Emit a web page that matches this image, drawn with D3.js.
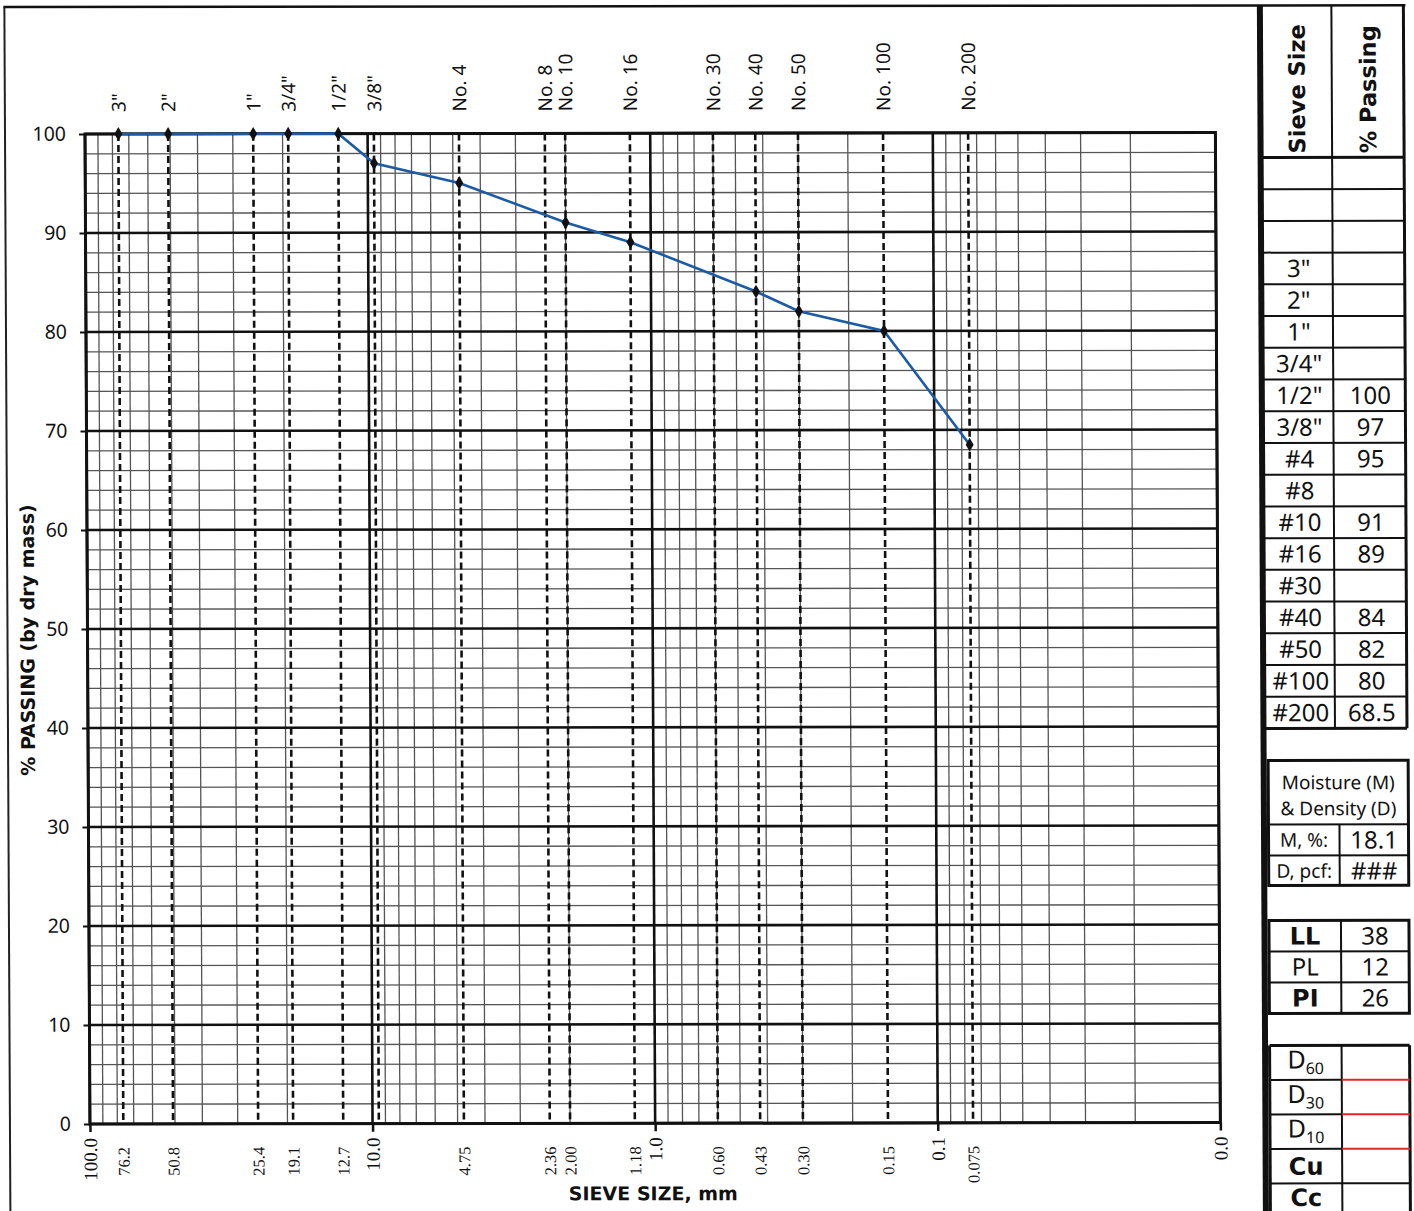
<!DOCTYPE html>
<html>
<head>
<meta charset="utf-8">
<script src="https://cdn.jsdelivr.net/npm/d3@7/dist/d3.min.js"></script>
<style>
  html, body { margin: 0; padding: 0; background: #fff; }
  svg { display: block; }
</style>
</head>
<body>
<svg id="chart" width="1414" height="1211"></svg>
<script>
// ---- Sieve analysis data ----
const sieveLabels = ['3"', '2"', '1"', '3/4"', '1/2"', '3/8"', 'No. 4', 'No. 8', 'No. 10', 'No. 16', 'No. 30', 'No. 40', 'No. 50', 'No. 100', 'No. 200'];
const sieveSizesMm = [76.2, 50.8, 25.4, 19.1, 12.7, 9.5, 4.75, 2.36, 2.00, 1.18, 0.60, 0.425, 0.30, 0.15, 0.075];
const percentPassing = [100, 100, 100, 100, 100, 97, 95, null, 91, 89, null, 84, 82, 80, 68.5];

// bottom axis (sieve opening, mm)
const mmTickValues = [100, 76.2, 50.8, 25.4, 19.1, 12.7, 10, 4.75, 2.36, 2.00, 1.18, 1, 0.60, 0.425, 0.30, 0.15, 0.1, 0.075, 0.01];
const mmTickLabels = ['100.0', '76.2', '50.8', '25.4', '19.1', '12.7', '10.0', '4.75', '2.36', '2.00', '1.18', '1.0', '0.60', '0.43', '0.30', '0.15', '0.1', '0.075', '0.0'];
const decadeValues = [100, 10, 1, 0.1, 0.01];
const passingTicks = [0, 10, 20, 30, 40, 50, 60, 70, 80, 90, 100];

// summary table
const tableSieves = ['', '', '', '3"', '2"', '1"', '3/4"', '1/2"', '3/8"', '#4', '#8', '#10', '#16', '#30', '#40', '#50', '#100', '#200'];
const tablePassing = ['', '', '', '', '', '', '', '100', '97', '95', '', '91', '89', '', '84', '82', '80', '68.5'];
const moistureLabels = ['M, %:', 'D, pcf:'];
const moistureValues = ['18.1', '###'];
const limitLabels = ['LL', 'PL', 'PI'];
const limitBold = [true, false, true];
const limitValues = ['38', '12', '26'];
const gradationLabels = [['D', '60'], ['D', '30'], ['D', '10'], ['Cu', ''], ['Cc', '']];

// ---- layout ----
const plot = { left: 85, right: 1215.4, top: 134, bottom: 1124 };
const skewX = 0.005, skewY = -0.0013;

const svg = d3.select('#chart');
const root = svg.append('g')
  .attr('transform', `matrix(1,${skewY},${skewX},1,${-skewX * plot.top},${-skewY * plot.left})`);

const x = d3.scaleLog().domain([100, 0.01]).range([plot.left, plot.right]);
const y = d3.scaleLinear().domain([0, 100]).range([plot.bottom, plot.top]);

const sansFont = "'Noto Sans', 'DejaVu Sans', sans-serif";
const boldFont = "'DejaVu Sans', 'Noto Sans', sans-serif";
const serifFont = "'Liberation Serif', 'DejaVu Serif', serif";

// page frame
root.append('line').attr('x1', 4).attr('x2', 1406).attr('y1', 7).attr('y2', 7)
  .attr('stroke', '#111').attr('stroke-width', 2.5);
root.append('line').attr('x1', 5).attr('x2', 5).attr('y1', 7).attr('y2', 1230)
  .attr('stroke', '#222').attr('stroke-width', 2);
root.append('line').attr('x1', 1259.5).attr('x2', 1259.5).attr('y1', 7).attr('y2', 1230)
  .attr('stroke', '#111').attr('stroke-width', 4);

// ---- grid ----
const grid = root.append('g');
const minorX = [];
decadeValues.slice(1).forEach(d => { for (let k = 2; k <= 9; k++) minorX.push(d * k); });
grid.selectAll('line.vminor').data(minorX).join('line')
  .attr('x1', d => x(d)).attr('x2', d => x(d))
  .attr('y1', plot.top).attr('y2', plot.bottom)
  .attr('stroke', '#555').attr('stroke-width', 1.3);

const minorY = d3.range(2, 100, 2).filter(v => v % 10 !== 0);
grid.selectAll('line.hminor').data(minorY).join('line')
  .attr('x1', plot.left).attr('x2', plot.right)
  .attr('y1', d => y(d)).attr('y2', d => y(d))
  .attr('stroke', '#555').attr('stroke-width', 1.3);

grid.selectAll('line.hmajor').data(passingTicks).join('line')
  .attr('x1', plot.left).attr('x2', plot.right)
  .attr('y1', d => y(d)).attr('y2', d => y(d))
  .attr('stroke', '#111').attr('stroke-width', 2.6);

grid.selectAll('line.vmajor').data(decadeValues).join('line')
  .attr('x1', d => x(d)).attr('x2', d => x(d))
  .attr('y1', plot.top).attr('y2', plot.bottom)
  .attr('stroke', '#111').attr('stroke-width', 2.6);

// sieve opening reference lines
grid.selectAll('line.sieve').data(sieveSizesMm).join('line')
  .attr('x1', d => x(d)).attr('x2', d => x(d))
  .attr('y1', plot.top).attr('y2', plot.bottom)
  .attr('stroke', '#111').attr('stroke-width', 2.6)
  .attr('stroke-dasharray', '7,4');

// frame
root.append('rect')
  .attr('x', plot.left).attr('y', plot.top)
  .attr('width', plot.right - plot.left).attr('height', plot.bottom - plot.top)
  .attr('fill', 'none').attr('stroke', '#111').attr('stroke-width', 3);

// ---- axes ----
const yAxis = root.append('g').attr('transform', `translate(${plot.left},0)`)
  .call(d3.axisLeft(y).tickValues(passingTicks).tickSize(6).tickPadding(13).tickFormat(d3.format('d')));
yAxis.select('.domain').remove();
yAxis.selectAll('line').attr('stroke', '#111').attr('stroke-width', 2);
yAxis.selectAll('text').attr('font-family', sansFont).attr('font-size', 19.5).attr('fill', '#111');

const decadeTicks = root.append('g').attr('transform', `translate(0,${plot.bottom})`)
  .call(d3.axisBottom(x).tickValues(decadeValues).tickSize(8).tickFormat(''));
decadeTicks.select('.domain').remove();
decadeTicks.selectAll('line').attr('stroke', '#111').attr('stroke-width', 2.5);

const isDecade = v => decadeValues.includes(v);
const xAxis = root.append('g').attr('transform', `translate(0,${plot.bottom})`)
  .call(d3.axisBottom(x).tickValues(mmTickValues).tickSize(0).tickFormat((d, i) => mmTickLabels[i]));
xAxis.select('.domain').remove();
xAxis.selectAll('text')
  .attr('font-family', serifFont)
  .attr('font-size', d => isDecade(d) ? 19 : 16.5)
  .attr('fill', '#111')
  .attr('text-anchor', 'end')
  .attr('transform', 'rotate(-90)')
  .attr('x', d => isDecade(d) ? -14 : -23)
  .attr('y', 0)
  .attr('dy', '0.34em');

const topAxis = root.append('g').attr('transform', `translate(0,${plot.top})`)
  .call(d3.axisTop(x).tickValues(sieveSizesMm).tickSize(0).tickFormat((d, i) => sieveLabels[i]));
topAxis.select('.domain').remove();
topAxis.selectAll('text')
  .attr('font-family', sansFont)
  .attr('font-size', 19)
  .attr('fill', '#111')
  .attr('text-anchor', 'start')
  .attr('transform', 'rotate(-90)')
  .attr('x', plot.top - 112)
  .attr('y', 0)
  .attr('dy', '0.36em');

// axis titles
root.append('text')
  .attr('transform', 'translate(25,640) rotate(-90)')
  .attr('text-anchor', 'middle').attr('dy', '0.36em')
  .attr('font-family', boldFont).attr('font-weight', 'bold').attr('font-size', 19)
  .attr('fill', '#111')
  .text('% PASSING (by dry mass)');
root.append('text')
  .attr('x', 648).attr('y', 1201)
  .attr('text-anchor', 'middle')
  .attr('font-family', boldFont).attr('font-weight', 'bold').attr('font-size', 19)
  .attr('fill', '#111')
  .text('SIEVE SIZE, mm');

// ---- gradation curve ----
const points = sieveSizesMm.map((d, i) => ({ size: d, pass: percentPassing[i] }))
  .filter(p => p.pass !== null);
root.append('path')
  .datum(points)
  .attr('fill', 'none')
  .attr('stroke', '#1d5ba5')
  .attr('stroke-width', 2.6)
  .attr('d', d3.line().x(p => x(p.size)).y(p => y(p.pass)));
root.selectAll('path.marker').data(points).join('path')
  .attr('transform', p => `translate(${x(p.size)},${y(p.pass)})`)
  .attr('d', d3.symbol().type(d3.symbolDiamond).size(55))
  .attr('fill', '#111');

// ---- summary table ----
const tbl = root.append('g');
const colL = 1262, colM = 1332, colR = 1404;
const rowTop = 159, rowH = (730 - 159) / tableSieves.length;
const thin = 2, thick = 3;
const line = (g, x1, y1, x2, y2, w, c) => g.append('line')
  .attr('x1', x1).attr('y1', y1).attr('x2', x2).attr('y2', y2)
  .attr('stroke', c || '#111').attr('stroke-width', w);

// header
line(tbl, colM, 7, colM, 730, thin);
line(tbl, colR, 7, colR, 730, thick);
line(tbl, colL, 7, colL, 1230, thick);
line(tbl, colL, rowTop, colR, rowTop, thick);
tbl.append('text')
  .attr('transform', `translate(${(colL + colM) / 2},${rowTop - 4}) rotate(-90)`)
  .attr('dy', '0.36em')
  .attr('font-family', boldFont).attr('font-weight', 'bold').attr('font-size', 22.5).attr('fill', '#111')
  .text('Sieve Size');
tbl.append('text')
  .attr('transform', `translate(${(colM + colR) / 2},${rowTop - 4}) rotate(-90)`)
  .attr('dy', '0.36em')
  .attr('font-family', boldFont).attr('font-weight', 'bold').attr('font-size', 22.5).attr('fill', '#111')
  .text('% Passing');

tableSieves.forEach((s, i) => {
  const yb = rowTop + (i + 1) * rowH;
  line(tbl, colL, yb, colR, yb, i === tableSieves.length - 1 ? thick : thin);
  const yc = rowTop + (i + 0.5) * rowH;
  tbl.append('text').attr('x', (colL + colM) / 2 + 1).attr('y', yc).attr('dy', '0.36em')
    .attr('text-anchor', 'middle').attr('font-family', sansFont).attr('font-size', 24).attr('fill', '#111')
    .text(s);
  tbl.append('text').attr('x', (colM + colR) / 2 + 1).attr('y', yc).attr('dy', '0.36em')
    .attr('text-anchor', 'middle').attr('font-family', sansFont).attr('font-size', 24).attr('fill', '#111')
    .text(tablePassing[i]);
});

// moisture & density block
const mL = 1265, mM = 1336, mR = 1405;
tbl.append('rect').attr('x', mL).attr('y', 762).attr('width', mR - mL).attr('height', 887 - 762)
  .attr('fill', 'none').attr('stroke', '#111').attr('stroke-width', thick);
line(tbl, mL, 826, mR, 826, thin);
line(tbl, mL, 857, mR, 857, thin);
line(tbl, mM, 826, mM, 887, thin);
tbl.append('text').attr('x', (mL + mR) / 2).attr('y', 784).attr('dy', '0.36em')
  .attr('text-anchor', 'middle').attr('font-family', sansFont).attr('font-size', 19).attr('fill', '#111')
  .text('Moisture (M)');
tbl.append('text').attr('x', (mL + mR) / 2).attr('y', 810).attr('dy', '0.36em')
  .attr('text-anchor', 'middle').attr('font-family', sansFont).attr('font-size', 19).attr('fill', '#111')
  .text('& Density (D)');
moistureLabels.forEach((lab, i) => {
  const yc = 826 + (i + 0.5) * 31;
  tbl.append('text').attr('x', (mL + mM) / 2).attr('y', yc).attr('dy', '0.36em')
    .attr('text-anchor', 'middle').attr('font-family', sansFont).attr('font-size', 19).attr('fill', '#111')
    .text(lab);
  tbl.append('text').attr('x', (mM + mR) / 2).attr('y', yc).attr('dy', '0.36em')
    .attr('text-anchor', 'middle').attr('font-family', sansFont).attr('font-size', 24).attr('fill', '#111')
    .text(moistureValues[i]);
});

// Atterberg limits block
const lM = 1337, lTop = 922, lH = 31;
tbl.append('rect').attr('x', mL).attr('y', lTop).attr('width', mR - mL).attr('height', lH * 3)
  .attr('fill', 'none').attr('stroke', '#111').attr('stroke-width', thick);
line(tbl, lM, lTop, lM, lTop + 3 * lH, thin);
limitLabels.forEach((lab, i) => {
  const yc = lTop + (i + 0.5) * lH;
  if (i > 0) line(tbl, mL, lTop + i * lH, mR, lTop + i * lH, thin);
  tbl.append('text').attr('x', (mL + lM) / 2).attr('y', yc).attr('dy', '0.36em')
    .attr('text-anchor', 'middle')
    .attr('font-family', limitBold[i] ? boldFont : sansFont)
    .attr('font-weight', limitBold[i] ? 'bold' : 'normal')
    .attr('font-size', 24).attr('fill', '#111')
    .text(lab);
  tbl.append('text').attr('x', (lM + mR) / 2).attr('y', yc).attr('dy', '0.36em')
    .attr('text-anchor', 'middle').attr('font-family', sansFont).attr('font-size', 24).attr('fill', '#111')
    .text(limitValues[i]);
});

// gradation coefficients block
const gTop = 1047, gH = 34.5;
line(tbl, mL, gTop, mR, gTop, thick);
line(tbl, mL, gTop, mL, 1230, thick);
line(tbl, mR, gTop, mR, 1230, thick);
line(tbl, lM, gTop, lM, 1230, thin);
gradationLabels.forEach((lab, i) => {
  const yb = gTop + (i + 1) * gH;
  const yc = gTop + (i + 0.5) * gH;
  line(tbl, mL, yb, lM, yb, thin);
  line(tbl, lM, yb, mR, yb, thin, i < 3 ? '#e0282a' : '#111');
  const t = tbl.append('text').attr('x', (mL + lM) / 2).attr('y', Math.min(yc, 1199)).attr('dy', '0.36em')
    .attr('text-anchor', 'middle').attr('fill', '#111');
  if (lab[1]) {
    t.append('tspan').attr('font-family', sansFont).attr('font-size', 25).text(lab[0]);
    t.append('tspan').attr('font-family', sansFont).attr('font-size', 16).attr('dy', '0.35em').text(lab[1]);
  } else {
    t.attr('font-family', boldFont).attr('font-weight', 'bold').attr('font-size', 24).text(lab[0]);
  }
});
</script>
</body>
</html>
